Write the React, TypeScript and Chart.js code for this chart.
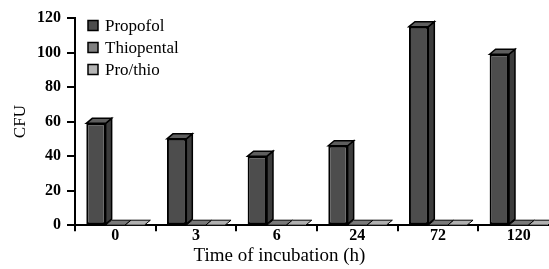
import React, { useEffect, useRef } from "react";
import { Chart, registerables } from "chart.js";

Chart.register(...registerables);

const categories = ["0", "3", "6", "24", "72", "120"];
const propofol = [59, 50, 40, 46, 115, 99];
const thiopental = [0, 0, 0, 0, 0, 0];
const prothio = [0, 0, 0, 0, 0, 0];
const seriesNames = ["Propofol", "Thiopental", "Pro/thio"];
const yTicks = [0, 20, 40, 60, 80, 100, 120];

const FONT = "'Liberation Serif', 'Times New Roman', serif";
const frontColors = ["#4d4d4d", "#808080", "#b4b4b4"];
const sideColors = ["#3c3c3c", "#6a6a6a", "#9a9a9a"];
const topColors = ["#5e5e5e", "#7a7a7a", "#b0b0b0"];
const DX = 6;
const DY = -5;

const threeD = {
  id: "threeD",
  afterDatasetsDraw(chart: any) {
    const ctx = chart.ctx;
    ctx.save();
    ctx.strokeStyle = "#000";
    ctx.lineJoin = "miter";
    chart.data.datasets.forEach((ds: any, di: number) => {
      const meta = chart.getDatasetMeta(di);
      meta.data.forEach((el: any) => {
        const { x, y, base, width } = el.getProps(["x", "y", "base", "width"], true);
        const xl = x - width / 2;
        const xr = x + width / 2;
        const tall = base - y > 0.5;
        ctx.lineWidth = tall ? 1.5 : 1;
        if (tall) {
          ctx.beginPath();
          ctx.moveTo(xr, y);
          ctx.lineTo(xr + DX, y + DY);
          ctx.lineTo(xr + DX, base + DY);
          ctx.lineTo(xr, base);
          ctx.closePath();
          ctx.fillStyle = sideColors[di];
          ctx.fill();
          ctx.stroke();
        }
        ctx.beginPath();
        ctx.moveTo(xl, y);
        ctx.lineTo(xl + DX, y + DY);
        ctx.lineTo(xr + DX, y + DY);
        ctx.lineTo(xr, y);
        ctx.closePath();
        ctx.fillStyle = topColors[di];
        ctx.fill();
        ctx.stroke();
      });
    });
    ctx.restore();
  },
  afterDraw(chart: any) {
    const ctx = chart.ctx;
    const ca = chart.chartArea;
    ctx.save();
    ctx.font = `17px ${FONT}`;
    ctx.textBaseline = "middle";
    ctx.textAlign = "left";
    seriesNames.forEach((name, i) => {
      const cy = ca.top + 7.5 + i * 22;
      const bx = ca.left + 13;
      ctx.fillStyle = frontColors[i];
      ctx.fillRect(bx, cy - 5, 10, 10);
      ctx.lineWidth = 1.5;
      ctx.strokeStyle = "#000";
      ctx.strokeRect(bx, cy - 5, 10, 10);
      ctx.fillStyle = "#000";
      ctx.fillText(name, bx + 17, cy + 1);
    });
    ctx.restore();
  },
};

export default function App() {
  const ref = useRef<HTMLCanvasElement>(null);
  useEffect(() => {
    const chart = new Chart(ref.current as HTMLCanvasElement, {
      type: "bar",
      data: {
        labels: categories,
        datasets: [propofol, thiopental, prothio].map((d, i) => ({
          label: seriesNames[i],
          data: d,
          backgroundColor: frontColors[i],
          borderColor: "#000",
          borderWidth: 2,
          borderSkipped: false as any,
          barPercentage: 1,
          categoryPercentage: 0.72,
        })),
      },
      options: {
        responsive: false,
        animation: false,
        layout: { padding: { top: 18, right: 1, left: 0, bottom: 0 } },
        plugins: {
          legend: { display: false },
          tooltip: { enabled: false },
          title: {
            display: true,
            position: "bottom",
            text: "Time of incubation (h)",
            color: "#000",
            font: { family: FONT, size: 19, weight: "normal" },
            padding: { top: 0, bottom: 2 },
          },
        },
        scales: {
          x: {
            offset: true,
            grid: {
              offset: true,
              drawOnChartArea: false,
              drawTicks: true,
              tickLength: 6,
              color: "#000",
              lineWidth: 2,
            },
            border: { display: true, color: "#000", width: 2 },
            ticks: {
              color: "#000",
              font: { family: FONT, size: 16, weight: "bold" },
              padding: -5,
            },
            afterFit(scale: any) {
              scale.height = 19;
            },
          },
          y: {
            min: 0,
            max: 120,
            afterBuildTicks(scale: any) {
              scale.ticks = yTicks.map((v) => ({ value: v }));
            },
            grid: {
              drawOnChartArea: false,
              drawTicks: true,
              tickLength: 8,
              color: "#000",
              lineWidth: 2,
            },
            border: { display: true, color: "#000", width: 2 },
            ticks: {
              color: "#000",
              font: { family: FONT, size: 16, weight: "bold" },
              padding: 6,
            },
            title: {
              display: true,
              text: "CFU",
              color: "#000",
              font: { family: FONT, size: 17, weight: "normal" },
              padding: { top: 10, bottom: 0 },
            },
            afterFit(scale: any) {
              scale.width = 75;
            },
          },
        },
      },
      plugins: [threeD],
    });
    return () => chart.destroy();
  }, []);
  return (
    <div style={{ position: "fixed", left: 0, top: 0, width: 560, height: 269, background: "#fff" }}>
      <canvas ref={ref} width={560} height={269} style={{ display: "block" }} />
    </div>
  );
}
